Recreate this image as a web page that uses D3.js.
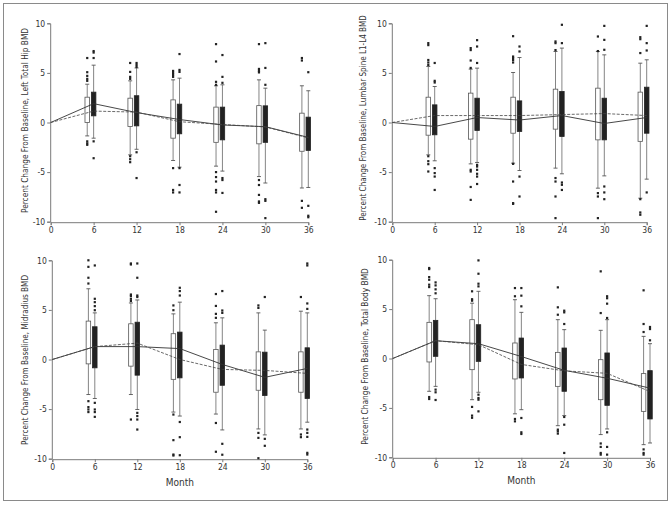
<!DOCTYPE html>
<html><head><meta charset="utf-8">
<script src="https://cdn.jsdelivr.net/npm/d3@7/dist/d3.min.js"></script>
<style>
body{margin:0;background:#fff;}
text{font-family:"Liberation Sans Narrow","Arial Narrow","DejaVu Sans Condensed",sans-serif;fill:#333;}
</style></head>
<body><svg id="c" width="671" height="507"></svg>
<script>
const months = [0, 6, 12, 18, 24, 30, 36];
const boxMonths = [6, 12, 18, 24, 30, 36];
const yTicks = [-10, -5, 0, 5, 10];
const xTicks = [0, 6, 12, 18, 24, 30, 36];
const yLabels = [
  "Percent Change From Baseline, Left Total Hip BMD",
  "Percent Change From Baseline, Lumbar Spine L1-L4 BMD",
  "Percent Change From Baseline, Midradius BMD",
  "Percent Change From Baseline, Total Body BMD"
];
// box stats: [lowWhisker, q1, q3, highWhisker] per month
const hipOpen = [[-1.35,0,2.55,3.86],[-3.26,-0.4,2.45,4.2],[-3.83,-1.58,2.28,4.3],[-4.4,-2.0,1.55,3.7],[-5.45,-2.15,1.7,4.3],[-6.6,-2.9,0.94,3.7]];
const hipOpenOut = [[6.5,5.07,4.7,4.4,4.2,-1.9,-2.1,-2.25],[6.0,5.1,4.6,4.4,-3.4,-3.7,-4.0],[5.2,5.0,4.8,4.6,-4.6,-6.8,-7.05],[7.9,6.15,4.1,3.8,-5.0,-5.5,-5.95,-6.8,-7.05,-9.0],[7.9,5.4,5.2,5.05,-5.8,-6.3,-7.3,-7.96,-8.1],[6.5,6.25,-7.9,-8.6]];
const hipFilled = [[-1.58,0.67,3.06,5.78],[-2.7,-0.34,2.7,5.5],[-4.5,-1.14,1.85,4.47],[-4.9,-1.75,1.55,3.8],[-6.1,-2.0,1.68,3.46],[-6.55,-2.82,0.54,3.2]];
const hipFilledOut = [[7.2,7.05,6.5,-1.9,-3.6],[6.0,5.8,5.6,-3.0,-5.6],[6.9,5.3,5.1,-4.6,-6.3,-7.05],[6.8,4.6,4.0,-5.6,-5.8,-7.1],[8.0,5.5,3.8,-7.73,-7.9,-9.64],[5.07,-8.4,-9.4,-9.55]];
const hipSolid = [0,1.9,1.0,0.3,-0.25,-0.42,-1.5];
const hipDashed = [0,1.15,1.05,0.08,-0.2,-0.45,-1.55];

const spineOpen = [[-3.26,-1.28,2.55,5.65],[-4.17,-1.68,2.96,5.38],[-4.1,-1.08,2.55,5.04],[-4.6,-0.67,3.36,7.16],[-6.62,-1.75,3.46,7.16],[-7.63,-1.9,3.06,5.98]];
const spineOpenOut = [[8.0,7.8,6.3,6.05,5.8,-3.4,-3.9,-4.2,-4.94],[7.5,7.3,6.25,5.5,-4.77,-4.94,-6.5,-7.8],[8.7,6.65,6.5,6.3,6.05,-4.17,-5.95,-8.13,-8.2],[8.17,8.0,7.3,-5.6,-5.95,-7.46,-9.64],[8.67,7.2,-7.12,-7.46,-9.64],[8.6,8.4,7.0,-7.73,-9.07,-9.3]];
const spineFilled = [[-3.86,-1.24,1.78,3.63],[-4.03,-0.8,2.45,5.48],[-4.84,-0.9,2.18,6.55],[-5.17,-1.41,3.13,7.5],[-5.38,-1.75,2.45,6.82],[-5.71,-1.08,3.56,6.32]];
const spineFilledOut = [[6.0,4.2,4.03,-4.6,-5.1,-5.45,-6.8],[8.3,7.66,6.0,-4.27,-4.44,-4.77,-5.17,-5.45,-6.2],[7.66,7.16,-5.45,-7.46],[9.85,8.0,-6.05,-6.28,-6.8],[9.74,8.33,7.33,-6.45,-7.05,-7.73],[9.74,8.0,7.26,-7.05]];
const spineSolid = [0,-0.4,0.5,0.25,0.7,-0.1,0.5];
const spineDashed = [0,0.7,0.7,0.7,0.8,0.9,0.7];

const radOpen = [[-3.53,-0.44,3.87,7.13],[-3.53,-0.67,3.6,5.7],[-5.3,-2.0,2.6,4.6],[-5.5,-3.3,1.0,3.7],[-7.0,-3.1,0.77,4.7],[-7.0,-3.3,0.77,4.87]];
const radOpenOut = [[10.0,9.34,8.24,7.66,-4.2,-4.8,-5.04,-5.3],[9.68,9.58,6.55,6.4,6.12,5.9,-6.05],[5.45,4.97,-5.55,-8.13,-9.58,-9.68],[6.6,5.4,4.6,4.2,-6.4,-9.3],[5.45,5.2,-7.4,-7.9,-9.95],[6.3,-7.56,-7.83]];
const radFilled = [[-3.93,-0.84,3.3,4.7],[-5.04,-1.58,3.76,6.0],[-5.7,-1.85,2.76,5.78],[-7.1,-2.6,1.45,4.2],[-7.6,-3.63,0.74,2.96],[-6.32,-3.93,1.18,4.7]];
const radFilledOut = [[9.48,6.12,5.78,5.38,4.97,-4.37,-5.04,-5.3,-5.78],[9.68,8.24,6.45,6.3,-5.38,-5.7,-6.05,-7.06],[7.23,6.9,6.45,-6.3,-7.83,-9.65],[6.9,4.94,4.7,-8.5,-9.6],[6.3,-8.0,-8.7],[9.68,9.48,5.65,5.1,-7.06,-7.4,-7.8,-9.41,-9.58]];
const radSolid = [0,1.3,1.3,1.1,-0.5,-1.8,-0.9];
const radDashed = [0,1.3,1.65,0.0,-1.0,-1.1,-1.4];

const bodyOpen = [[-3.32,-0.35,3.66,6.36],[-4.17,-1.13,3.93,5.6],[-5.6,-2.07,1.57,5.95],[-6.8,-2.82,0.62,3.93],[-7.7,-4.17,-0.12,2.85],[-8.72,-5.35,-1.53,2.24]];
const bodyOpenOut = [[9.16,9.05,8.24,7.97,7.47,7.23,-3.9,-4.1],[6.8,6.0,5.85,-4.9,-5.78,-6.0],[7.13,6.3,-6.12,-6.36],[7.2,5.18,4.43,-7.2,-7.37,-7.6],[8.82,4.6,-8.6,-8.95,-9.56,-9.73],[6.9,3.49,2.68,-9.2,-9.56,-9.73]];
const bodyFilled = [[-2.82,0.22,3.86,6.05],[-3.42,-0.29,3.42,6.8],[-5.18,-1.97,2.07,4.67],[-5.78,-3.32,1.06,2.92],[-7.13,-4.74,0.56,3.93],[-8.55,-6.12,-1.23,1.5]];
const bodyFilledOut = [[7.7,7.4,7.0,6.6,-3.15,-3.42,-4.2],[9.93,8.58,7.57,7.3,-3.66,-4.0,-4.17,-5.35],[7.13,6.36,5.28,-6.02,-7.47,-7.64],[4.84,4.67,3.49,-5.92,-6.7,-9.56],[6.3,6.1,5.55,4.1,-7.47,-8.95,-9.73],[3.19,2.98,1.84]];
const bodySolid = [0,1.8,1.5,0.2,-1.2,-2.0,-3.0];
const bodyDashed = [0,1.8,1.4,-0.6,-1.25,-1.5,-3.35];

const panels = [
  {x0:50.7, x1:308.3, y0:221.7, y1:23.3, lx:25, ly:120.5, len:185, open:hipOpen, openOut:hipOpenOut, filled:hipFilled, filledOut:hipFilledOut, solid:hipSolid, dashed:hipDashed, label:yLabels[0], month:false},
  {x0:392.3, x1:646.7, y0:221.7, y1:23.3, lx:363, ly:118, len:206, open:spineOpen, openOut:spineOpenOut, filled:spineFilled, filledOut:spineFilledOut, solid:spineSolid, dashed:spineDashed, label:yLabels[1], month:false},
  {x0:52.3, x1:307.3, y0:458.7, y1:260.3, lx:25, ly:360, len:170, open:radOpen, openOut:radOpenOut, filled:radFilled, filledOut:radFilledOut, solid:radSolid, dashed:radDashed, label:yLabels[2], month:true},
  {x0:392.7, x1:650, y0:457.3, y1:259.7, lx:365, ly:356.5, len:177, open:bodyOpen, openOut:bodyOpenOut, filled:bodyFilled, filledOut:bodyFilledOut, solid:bodySolid, dashed:bodyDashed, label:yLabels[3], month:true}
];

const svg = d3.select("#c");
svg.append("rect").attr("x",3.5).attr("y",3.5).attr("width",664).attr("height",497)
  .attr("fill","none").attr("stroke","#8a8a8a").attr("stroke-width",1);

const axisColor = "#7a7a7a";
const openOffset = -6.4, bw = 4.5, capW = 4;

panels.forEach(p => {
  const x = d3.scaleLinear().domain([0,36]).range([p.x0,p.x1]);
  const y = d3.scaleLinear().domain([-10,10]).range([p.y0,p.y1]);
  const g = svg.append("g");

  const ya = g.append("g").attr("transform",`translate(${p.x0-0.5},0)`)
    .call(d3.axisLeft(y).tickValues(yTicks).tickSize(3).tickPadding(2));
  const xa = g.append("g").attr("transform",`translate(0,${p.y0+0.5})`)
    .call(d3.axisBottom(x).tickValues(xTicks).tickSize(3).tickPadding(1.5));
  [ya,xa].forEach(a=>{
    a.selectAll("path,line").attr("stroke",axisColor);
    a.selectAll("text").style("font-size","8.5px").attr("fill","#333");
  });
  ya.selectAll("text").text(d=>d<0?"-"+Math.abs(d):d);

  const lab = g.append("text").attr("transform",`translate(${p.lx},${p.ly}) rotate(-90)`)
    .attr("text-anchor","middle").attr("dy","0.35em").style("font-size","10px").text(p.label);
  const w = lab.node().getComputedTextLength();
  lab.style("font-size", (10 * p.len / w).toFixed(2) + "px");
  if(p.month){
    g.append("text").attr("x",(p.x0+p.x1)/2).attr("y",p.y0+27).attr("text-anchor","middle")
      .style("font-size","10px").text("Month");
  }

  function drawBox(stats, outs, off, filled){
    boxMonths.forEach((m,i)=>{
      const cx = x(m)+off;
      const [lo,q1,q3,hi] = stats[i];
      const bg = g.append("g");
      bg.append("line").attr("x1",cx).attr("x2",cx).attr("y1",y(hi)).attr("y2",y(q3)).attr("stroke","#777").attr("stroke-width",0.9);
      bg.append("line").attr("x1",cx).attr("x2",cx).attr("y1",y(q1)).attr("y2",y(lo)).attr("stroke","#777").attr("stroke-width",0.9);
      [lo,hi].forEach(v=>bg.append("line").attr("x1",cx-capW/2).attr("x2",cx+capW/2).attr("y1",y(v)).attr("y2",y(v)).attr("stroke","#555").attr("stroke-width",0.9));
      bg.append("rect").attr("x",cx-bw/2).attr("width",bw).attr("y",y(q3)).attr("height",y(q1)-y(q3))
        .attr("fill",filled?"#222":"#fff").attr("stroke",filled?"#222":"#555").attr("stroke-width",0.8);
      outs[i].forEach(v=>bg.append("rect").attr("x",cx-1.1).attr("y",y(v)-1.1).attr("width",2.2).attr("height",2.2).attr("fill","#222"));
    });
  }
  drawBox(p.open,p.openOut,openOffset,false);
  drawBox(p.filled,p.filledOut,0,true);

  const line = d3.line().x((d,i)=>x(months[i])).y(d=>y(d));
  g.append("path").attr("d",line(p.solid)).attr("fill","none").attr("stroke","#333").attr("stroke-width",0.9);
  g.append("path").attr("d",line(p.dashed)).attr("fill","none").attr("stroke","#444").attr("stroke-width",0.8).attr("stroke-dasharray","3,1.5");
});
</script></body></html>
